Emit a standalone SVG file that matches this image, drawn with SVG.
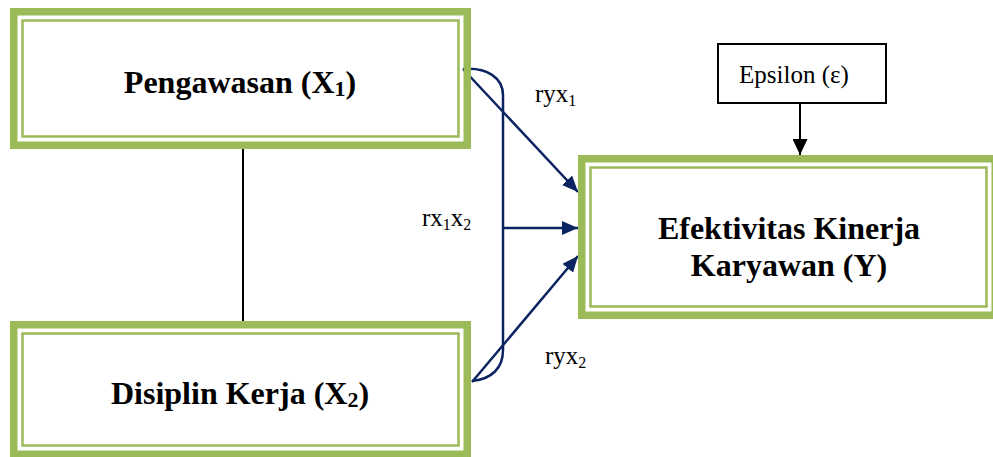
<svg xmlns="http://www.w3.org/2000/svg" width="993" height="457" viewBox="0 0 993 457">
  <defs>
    <style>
      .band { fill: none; stroke: #9bbb59; stroke-width: 7.5; }
      .thin { fill: none; stroke: #9bbb59; stroke-width: 2.5; }
      .title { font-weight: bold; font-size: 32px; fill: #000; text-anchor: middle; }
      .label { font-size: 25px; fill: #000; }
      .navy { fill: none; stroke: #0b2461; stroke-width: 2.5; }
    </style>
    <marker id="navyHead" viewBox="0 0 16 14" refX="16" refY="7" markerWidth="16" markerHeight="14" markerUnits="userSpaceOnUse" orient="auto">
      <path d="M0,0 L16,7 L0,14 Z" fill="#0b2461"/>
    </marker>
    <marker id="blackHead" viewBox="0 0 15 16" refX="7.5" refY="16" markerWidth="15" markerHeight="16" markerUnits="userSpaceOnUse" orient="0">
      <path d="M0,0 L15,0 L7.5,16 Z" fill="#000"/>
    </marker>
  </defs>

  <g font-family="Liberation Serif, Tinos, Times New Roman, serif">
    <!-- connectors -->
    <g id="connectors">
      <line x1="243" y1="149" x2="243" y2="321" stroke="#000" stroke-width="2"/>
      <path class="navy" stroke-width="2" d="M463,69 C487,67 503,78 503,95 L503,350 C503,368 492,379 472,381"/>
      <line class="navy" x1="463" y1="69" x2="578" y2="192" marker-end="url(#navyHead)"/>
      <line class="navy" x1="503" y1="228" x2="578" y2="228" marker-end="url(#navyHead)"/>
      <line class="navy" x1="472" y1="382" x2="578" y2="256" marker-end="url(#navyHead)"/>
      <line x1="800" y1="103" x2="800" y2="155" stroke="#000" stroke-width="2" marker-end="url(#blackHead)"/>
      <text class="label" x="535" y="102">ryx<tspan font-size="16" dy="4">1</tspan></text>
      <text class="label" x="422" y="226">rx<tspan font-size="16" dy="4">1</tspan><tspan dy="-4">x</tspan><tspan font-size="16" dy="4">2</tspan></text>
      <text class="label" x="545" y="364">ryx<tspan font-size="16" dy="4">2</tspan></text>
    </g>

    <!-- X1 -->
    <g id="pengawasan">
      <rect class="band" x="13.75" y="11.75" width="453.5" height="133.5"/>
      <rect class="thin" x="22.5" y="20.5" width="436" height="116"/>
      <text class="title" x="240" y="93">Pengawasan (X<tspan font-size="22" dy="3">1</tspan><tspan dy="-3">)</tspan></text>
    </g>

    <!-- X2 -->
    <g id="disiplin">
      <rect class="band" x="13.75" y="324.75" width="453.5" height="129.5"/>
      <rect class="thin" x="22.5" y="333.5" width="436" height="112"/>
      <text class="title" x="240" y="404">Disiplin Kerja (X<tspan font-size="22" dy="3">2</tspan><tspan dy="-3">)</tspan></text>
    </g>

    <!-- Y -->
    <g id="efektivitas">
      <rect class="band" x="581.75" y="158.75" width="413.5" height="156.5"/>
      <rect class="thin" x="590.5" y="167.5" width="396" height="139"/>
      <text class="title" x="789" y="239">Efektivitas Kinerja</text>
      <text class="title" x="789" y="276">Karyawan (Y)</text>
    </g>

    <!-- error term -->
    <g id="epsilon">
      <rect x="718" y="44" width="168" height="59" fill="#fff" stroke="#000" stroke-width="2"/>
      <text class="label" x="739" y="83" font-size="26">Epsilon (ε)</text>
    </g>
  </g>
</svg>
